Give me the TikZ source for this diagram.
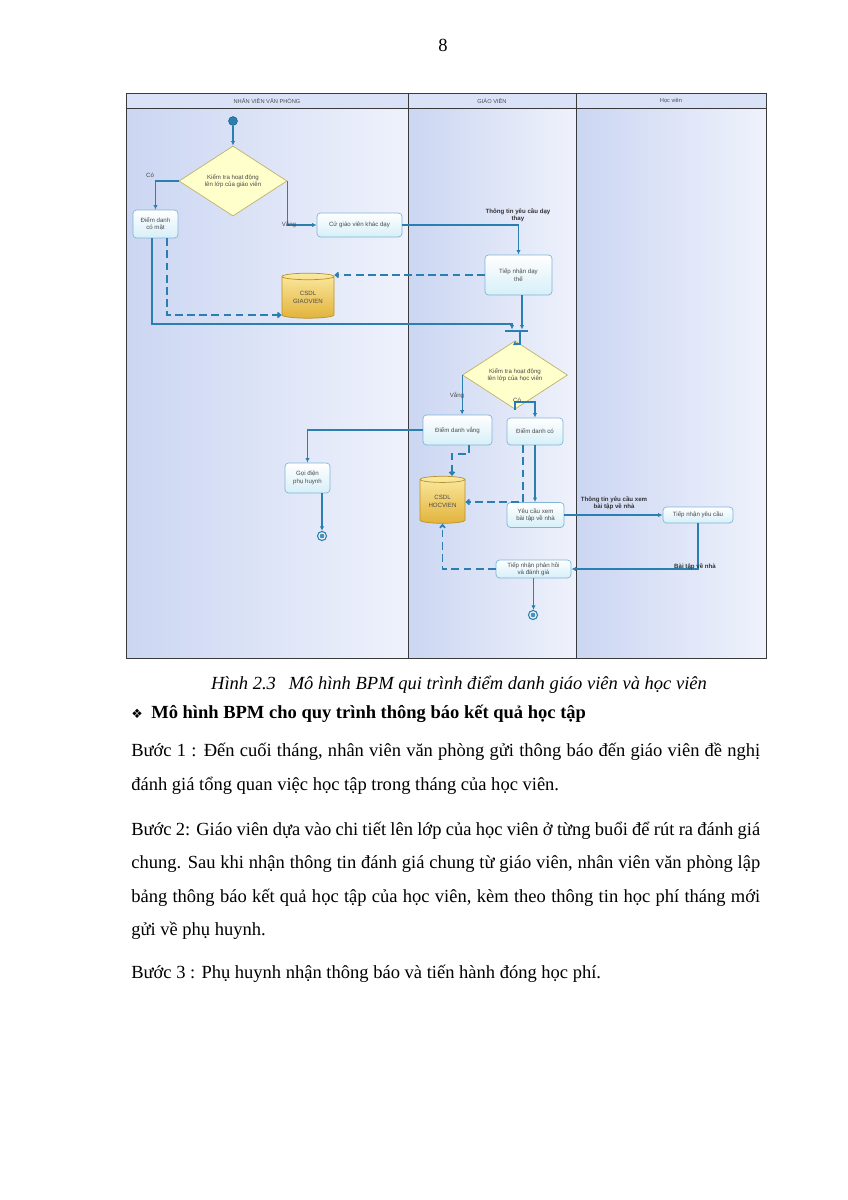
\documentclass[tikz,border=0pt]{standalone}
\usepackage{fontspec}
\setmainfont{Liberation Serif}
\newfontfamily\diafont{Liberation Sans}
\newfontfamily\symfont{DejaVu Sans}
\usetikzlibrary{arrows.meta,shapes.geometric}
\definecolor{Flow}{HTML}{2A7FB0}
\definecolor{TaskLine}{HTML}{7FB5D5}
\definecolor{TaskFill}{HTML}{D6EFF8}
\definecolor{GateLine}{HTML}{BFB36A}
\definecolor{GateFill}{HTML}{FFFFCC}
\definecolor{DbLight}{HTML}{FBE9A0}
\definecolor{DbDark}{HTML}{E2B33C}
\definecolor{DbLine}{HTML}{B8922E}
\definecolor{LaneDark}{HTML}{CBD6F2}
\definecolor{LaneLight}{HTML}{EFF2FC}
\definecolor{HeadFill}{HTML}{D9E2F7}
\definecolor{FrameLine}{HTML}{3A3A3A}
\definecolor{TextGray}{HTML}{4A4A4A}
\def\pxlen{0.7021pt}
\newcommand\diasize{\diafont\fontsize{4.3}{5.2}\selectfont}
\newcommand\bodysize{\fontsize{13}{16}\selectfont}
\newlength\linew
\setlength\linew{441.6pt}
\tikzset{task/.style={rectangle,rounded corners=2.5pt,draw=TaskLine,line width=.5pt,top color=white,bottom color=TaskFill,font=\diasize,text=TextGray,align=center,inner sep=1pt},gate/.style={diamond,draw=GateLine,fill=GateFill,line width=.5pt,font=\diasize,text=TextGray,align=center,inner sep=0pt},db/.style={cylinder,shape border rotate=90,aspect=.22,draw=DbLine,line width=.5pt,top color=DbLight,bottom color=DbDark,font=\diasize,text=TextGray,align=center,inner sep=0pt},startnode/.style={circle,fill=Flow,draw=Flow!70!black,line width=.3pt,inner sep=0pt,minimum size=9*\pxlen},endnode/.style={circle,draw=Flow,line width=.8pt,fill=white,inner sep=0pt,minimum size=9*\pxlen,path picture={\fill[Flow!85] (path picture bounding box.center) circle (1.7pt);}},bar/.style={rectangle,fill=Flow,inner sep=0pt,minimum width=23*\pxlen,minimum height=2.2*\pxlen},flowarrow/.style={draw=Flow,line width=.75pt,-{Latex[length=3.2pt,width=3pt]}},dataarrow/.style={draw=Flow,line width=1.2pt,dash pattern=on 5.5pt off 3pt,-{Straight Barb[length=2pt,width=3.5pt]}},lbl/.style={font=\diasize,text=TextGray,inner sep=.5pt},msg/.style={font=\diasize\bfseries,text=black!80,align=center,inner sep=.5pt},lanehead/.style={font=\diafont\fontsize{4}{5}\selectfont,text=TextGray},bodyline/.style={font=\bodysize,anchor=base west,inner sep=0pt}}

\begin{document}
\begin{tikzpicture}[x=0.7021pt,y=-0.7021pt]
\useasboundingbox (0,0) rectangle (848,1200);
\node[font=\bodysize,anchor=base] (pagenum) at (443,51) {8};

% swimlanes
\shade[left color=LaneDark,right color=LaneLight] (126,108) rectangle (408,658);
\shade[left color=LaneDark,right color=LaneLight] (408,108) rectangle (576,658);
\shade[left color=LaneDark,right color=LaneLight] (576,108) rectangle (766,658);
\fill[HeadFill] (126,93) rectangle (766,108);
\draw[FrameLine,line width=.7pt] (126,93) rectangle (766,658);
\draw[FrameLine,line width=.7pt] (126,108) -- (766,108);
\draw[FrameLine,line width=.7pt] (408,93) -- (408,658);
\draw[FrameLine,line width=.7pt] (576,93) -- (576,658);
\node[lanehead] (laneNV) at (267,101) {NHÂN VIÊN VĂN PHÒNG};
\node[lanehead] (laneGV) at (492,101) {GIÁO VIÊN};
\node[lanehead] (laneHV) at (671,101) {Học viên};

% nodes
\node[startnode] (start) at (233,121) {};
\node[gate,minimum width=108*\pxlen,minimum height=53*\pxlen] (ktgv) at (233,181) {Kiểm tra hoạt động\\lên lớp của giáo viên};
\node[task,minimum width=45*\pxlen,minimum height=28*\pxlen] (ddcm) at (155.5,224) {Điểm danh\\có mặt};
\node[task,minimum width=85*\pxlen,minimum height=24*\pxlen] (cugv) at (359.5,225) {Cử giáo viên khác dạy};
\node[task,minimum width=67*\pxlen,minimum height=40*\pxlen] (tndt) at (518.5,275) {Tiếp nhận dạy\\thế};
\node[db,minimum width=52*\pxlen,minimum height=45*\pxlen] (dbgv) at (308,297.5) {CSDL\\GIAOVIEN};
\node[bar] (fork) at (516.5,331) {};
\node[gate,minimum width=105*\pxlen,minimum height=44*\pxlen] (kthv) at (515,375) {Kiểm tra hoạt động\\lên lớp của học viên};
\node[task,minimum width=69*\pxlen,minimum height=30*\pxlen] (ddv) at (457.5,430) {Điểm danh vắng};
\node[task,minimum width=56*\pxlen,minimum height=27*\pxlen] (ddc) at (535,431.5) {Điểm danh có};
\node[task,minimum width=45*\pxlen,minimum height=30*\pxlen] (gdph) at (307.5,478) {Gọi điện\\phụ huynh};
\node[endnode] (end1) at (322,536) {};
\node[db,minimum width=45*\pxlen,minimum height=47*\pxlen] (dbhv) at (442.5,501.5) {CSDL\\HOCVIEN};
\node[task,minimum width=57*\pxlen,minimum height=25*\pxlen] (ycbt) at (535.5,515) {Yêu cầu xem\\bài tập về nhà};
\node[task,minimum width=70*\pxlen,minimum height=16*\pxlen] (tnyc) at (698,515) {Tiếp nhận yêu cầu};
\node[task,minimum width=75*\pxlen,minimum height=18*\pxlen] (tnph) at (533.5,569) {Tiếp nhận phản hồi\\và đánh giá};
\node[endnode] (end2) at (533,615) {};

% connectors
\draw[flowarrow] (start) -- (ktgv.north);
\draw[flowarrow] (ktgv.west) -| (ddcm.north);
\node[lbl] (lblco1) at (150,175) {Có};
\draw[flowarrow] (ktgv.east) |- (cugv.west);
\node[lbl] (lblvang1) at (289,224) {Vắng};
\draw[flowarrow] (cugv.east) -| (tndt.north);
\node[msg] (msgday) at (518,215) {Thông tin yêu cầu dạy\\thay};
\draw[dataarrow] (tndt.west) -- (tndt.west -| dbgv.east);
\draw[dataarrow] (ddcm.south -| 167,0) |- (dbgv.west |- 0,315);
\draw[flowarrow] (ddcm.south -| 152,0) |- (512,324) -- (fork.north -| 512,0);
\draw[flowarrow] (tndt.south -| 522,0) -- (fork.north -| 522,0);
\draw[flowarrow] (fork.south -| 520,0) -- (520,344) -| (kthv.north);
\draw[flowarrow] (kthv.west) -- (kthv.west |- ddv.north);
\node[lbl] (lblvang2) at (457,395) {Vắng};
\draw[flowarrow] (kthv.south) -- (515,402) -| (ddc.north);
\node[lbl] (lblco2) at (517,400) {Có};
\draw[flowarrow] (ddv.west) -| (gdph.north);
\draw[flowarrow] (gdph.south -| end1) -- (end1.north);
\draw[dataarrow] (ddv.south -| 469,0) -- (469,454) -| (dbhv.north -| 452,0);
\draw[dataarrow] (ddc.south -| 523,0) |- (dbhv.east |- 0,502);
\draw[flowarrow] (ddc.south) -- (ddc.south |- ycbt.north);
\draw[flowarrow] (ycbt.east) -- (tnyc.west);
\node[msg] (msgbt) at (614,503) {Thông tin yêu cầu xem\\bài tập về nhà};
\draw[flowarrow] (tnyc.south) |- (tnph.east);
\node[msg] (msgbtvn) at (695,567) {Bài tập về nhà};
\draw[dataarrow] (tnph.west) -| (dbhv.south);
\draw[flowarrow] (tnph.south) -- (tnph.south |- end2.north);

% text below the figure
\node[font=\bodysize\itshape,anchor=base] (caption) at (459,689) {Hình 2.3\hspace{9pt}Mô hình BPM qui trình điểm danh giáo viên và học viên};
\node[bodyline] (heading) at (131,718) {{\symfont\fontsize{9}{9}\selectfont ❖}\hspace{6pt}\textbf{Mô hình BPM cho quy trình thông báo kết quả học tập}};
\node[bodyline] (b1a) at (131,756) {\makebox[\linew][s]{Bước 1 : Đến cuối tháng, nhân viên văn phòng gửi thông báo đến giáo viên đề nghị}};
\node[bodyline] (b1b) at (131,790) {đánh giá tổng quan việc học tập trong tháng của học viên.};
\node[bodyline] (b2a) at (131,835) {\makebox[\linew][s]{Bước 2: Giáo viên dựa vào chi tiết lên lớp của học viên ở từng buổi để rút ra đánh giá}};
\node[bodyline] (b2b) at (131,868) {\makebox[\linew][s]{chung. Sau khi nhận thông tin đánh giá chung từ giáo viên, nhân viên văn phòng lập}};
\node[bodyline] (b2c) at (131,902) {\makebox[\linew][s]{bảng thông báo kết quả học tập của học viên, kèm theo thông tin học phí tháng mới}};
\node[bodyline] (b2d) at (131,935) {gửi về phụ huynh.};
\node[bodyline] (b3) at (131,978) {Bước 3 : Phụ huynh nhận thông báo và tiến hành đóng học phí.};
\end{tikzpicture}
\end{document}
